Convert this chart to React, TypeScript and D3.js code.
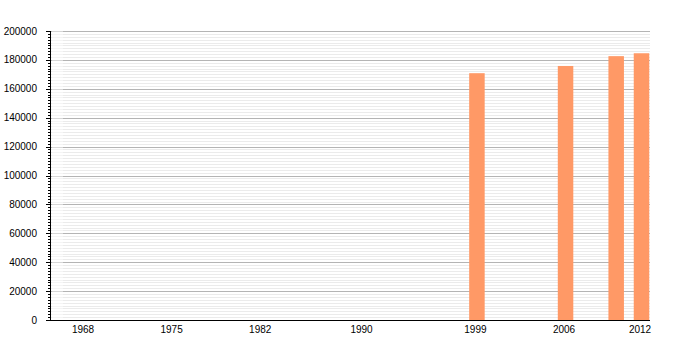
import React from "react";
import * as d3 from "d3";

const years = [1999, 2006, 2010, 2012];
const population = [170800, 175800, 182600, 184600];
const xTickYears = [1968, 1975, 1982, 1990, 1999, 2006, 2012];
const yMajorTicks = [0, 20000, 40000, 60000, 80000, 100000, 120000, 140000, 160000, 180000, 200000];

const W = 700;
const H = 350;
const left = 50;
const right = 650;
const top = 31;
const bottom = 320;

export default function App() {
  const x = d3.scaleLinear().domain([1968, 2012]).range([83, 640]);
  const y = d3.scaleLinear().domain([0, 200000]).range([bottom, top]);
  const minorTicks = d3.range(0, 200001, 2000).filter((v) => v % 20000 !== 0);
  const barW = 15.5;
  const barOffset = 1.5;
  const font = "'Liberation Sans', Arial, Helvetica, sans-serif";

  return (
    <svg
      width={W}
      height={H}
      style={{ position: "absolute", left: 0, top: 0, background: "#fff" }}
      fontFamily={font}
    >
      {/* minor gridlines */}
      {minorTicks.map((v) => (
        <line
          key={"mg" + v}
          x1={left}
          x2={right}
          y1={Math.round(y(v)) + 0.5}
          y2={Math.round(y(v)) + 0.5}
          stroke="#ebebeb"
          strokeWidth={1}
        />
      ))}
      {/* major gridlines */}
      {yMajorTicks.filter((v) => v > 0).map((v) => (
        <line
          key={"Mg" + v}
          x1={left}
          x2={right}
          y1={Math.round(y(v)) + 0.5}
          y2={Math.round(y(v)) + 0.5}
          stroke="#b4b4b4"
          strokeWidth={1}
        />
      ))}
      <rect x={52} y={top} width={11} height={bottom - top} fill="#fff" opacity={0.45} />
      {/* bars */}
      {years.map((yr, i) => (
        <rect
          key={"b" + yr}
          x={x(yr) + barOffset - barW / 2}
          y={y(population[i])}
          width={barW}
          height={bottom - y(population[i])}
          fill="#ff9966"
        />
      ))}
      {/* y axis */}
      <line x1={left + 0.5} x2={left + 0.5} y1={top} y2={bottom} stroke="#000" strokeWidth={1} />
      {minorTicks.map((v) => (
        <line
          key={"mt" + v}
          x1={left - 2}
          x2={left}
          y1={Math.round(y(v)) + 0.5}
          y2={Math.round(y(v)) + 0.5}
          stroke="#000"
          strokeWidth={1}
        />
      ))}
      {yMajorTicks.map((v) => (
        <g key={"yt" + v}>
          <line
            x1={left - 4}
            x2={left}
            y1={Math.round(y(v)) + 0.5}
            y2={Math.round(y(v)) + 0.5}
            stroke="#000"
            strokeWidth={1}
          />
          <text x={37} y={y(v) + 3.5} textAnchor="end" fontSize={10} fill="#000">
            {v}
          </text>
        </g>
      ))}
      {/* x axis */}
      <line x1={left} x2={right} y1={bottom + 0.5} y2={bottom + 0.5} stroke="#000" strokeWidth={1} />
      {xTickYears.map((yr) => (
        <text key={"xt" + yr} x={x(yr)} y={bottom + 12.5} textAnchor="middle" fontSize={10} fill="#000">
          {yr}
        </text>
      ))}
    </svg>
  );
}
